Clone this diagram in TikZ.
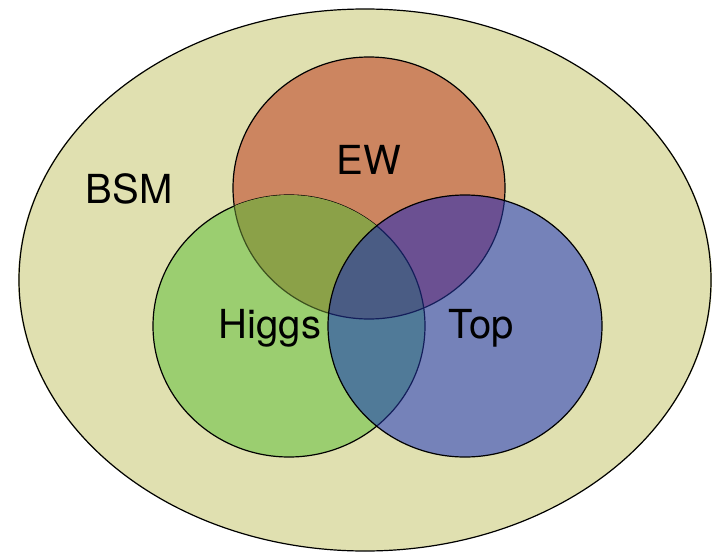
\documentclass[tikz,border=0pt]{standalone}
\usepackage{fontspec}
\setmainfont{TeX Gyre Heros}
\usepackage{tikz}
\usetikzlibrary{positioning}

\definecolor{bsmfill}{RGB}{224,224,176}
\definecolor{ewfill}{RGB}{204,133,96}
\definecolor{higgsfill}{RGB}{155,206,112}
\definecolor{topfill}{RGB}{117,130,185}
\definecolor{ewhiggs}{RGB}{139,161,72}
\definecolor{ewtop}{RGB}{107,80,146}
\definecolor{higgstop}{RGB}{80,122,152}
\definecolor{allthree}{RGB}{74,92,132}
\definecolor{darkolive}{RGB}{60,80,30}
\definecolor{darknavy}{RGB}{20,30,90}

\newcommand{\ewset}{(369,188) ellipse [x radius=136pt, y radius=131pt]}
\newcommand{\higgsset}{(289,326) ellipse [x radius=136pt, y radius=131pt]}
\newcommand{\topset}{(465,326) ellipse [x radius=137pt, y radius=131pt]}

\begin{document}
\begin{tikzpicture}[x=1pt, y=-1pt,
			setline/.style={draw=black, line width=1.2pt},
			setlabel/.style={font=\fontsize{40}{40}\selectfont, inner sep=0pt},
		]
			\useasboundingbox (0,0) rectangle (712,554);

			%Sets
			\fill[bsmfill] (365,280) ellipse [x radius=347pt, y radius=271pt];
			\draw[setline] (365,280) ellipse [x radius=346pt, y radius=271pt];

			\fill[ewfill] \ewset;
			\draw[setline] \ewset;

			\fill[higgsfill] \higgsset;
			\draw[setline] \higgsset;

			%Overlap EW and Higgs
			\begin{scope}
				\clip \higgsset;
				\fill[ewhiggs] \ewset;
				\draw[setline, draw=darkolive] \ewset;
			\end{scope}

			\fill[topfill] \topset;

			%Overlaps with Top
			\begin{scope}
				\clip \topset;
				\fill[ewtop] \ewset;
				\fill[higgstop] \higgsset;
				\begin{scope}
					\clip \ewset;
					\fill[allthree] \higgsset;
				\end{scope}
				\draw[setline, draw=darknavy] \ewset;
				\draw[setline, draw=darknavy] \higgsset;
			\end{scope}
			\draw[setline] \topset;

			%Nodes
			\node[setlabel] (bsm)   at (129,189) {BSM};
			\node[setlabel] (ew)    at (369,160) {EW};
			\node[setlabel] (higgs) at (270,328) {Higgs};
			\node[setlabel] (top)   at (481,328) {Top};

		\end{tikzpicture}
\end{document}
